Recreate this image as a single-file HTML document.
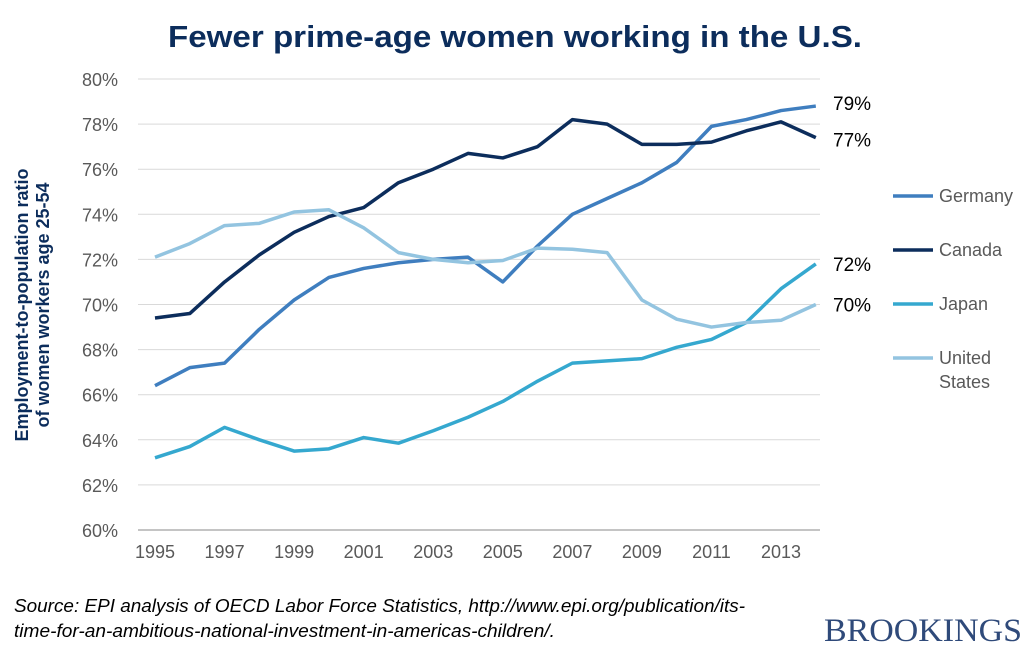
<!DOCTYPE html>
<html><head><meta charset="utf-8"><style>
body{margin:0;background:#fff;width:1031px;height:655px;overflow:hidden;font-family:"Liberation Sans",sans-serif}
</style></head><body>
<svg id="chart" width="1031" height="655" font-family="Liberation Sans, sans-serif">
<text x="515" y="47" text-anchor="middle" font-size="31" font-weight="bold" fill="#0c2d5c" textLength="694" lengthAdjust="spacingAndGlyphs">Fewer prime-age women working in the U.S.</text>
<g id="grid"></g><g id="yticks"></g><g id="xticks"></g><g id="lines"></g><g id="endlabels"></g><g id="legend"></g>
<text transform="translate(37,305) rotate(-90)" text-anchor="middle" font-size="18" font-weight="bold" fill="#0c2d5c"><tspan x="0" dy="-9">Employment-to-population ratio</tspan><tspan x="0" dy="21">of women workers age 25-54</tspan></text>
<text x="14" y="612" font-size="18" font-style="italic" fill="#000"><tspan x="14" textLength="731" lengthAdjust="spacingAndGlyphs">Source: EPI analysis of OECD Labor Force Statistics, http://www.epi.org/publication/its-</tspan><tspan x="14" dy="25" textLength="541" lengthAdjust="spacingAndGlyphs">time-for-an-ambitious-national-investment-in-americas-children/.</tspan></text>
<text x="1022" y="641" text-anchor="end" font-size="33" font-family="Liberation Serif, serif" fill="#2f4a7a" textLength="198" lengthAdjust="spacingAndGlyphs">BROOKINGS</text>
</svg>
<script>
const years=[1995,1996,1997,1998,1999,2000,2001,2002,2003,2004,2005,2006,2007,2008,2009,2010,2011,2012,2013,2014];
const germany=[66.4,67.2,67.4,68.9,70.2,71.2,71.6,71.85,72.0,72.1,71.0,72.6,74.0,74.7,75.4,76.3,77.9,78.2,78.6,78.8];
const canada=[69.4,69.6,71.0,72.2,73.2,73.9,74.3,75.4,76.0,76.7,76.5,77.0,78.2,78.0,77.1,77.1,77.2,77.7,78.1,77.4];
const japan=[63.2,63.7,64.55,64.0,63.5,63.6,64.1,63.85,64.4,65.0,65.7,66.6,67.4,67.5,67.6,68.1,68.45,69.2,70.7,71.8];
const us=[72.1,72.7,73.5,73.6,74.1,74.2,73.4,72.3,72.0,71.85,71.95,72.5,72.45,72.3,70.2,69.35,69.0,69.2,69.3,70.0];
const yTicks=[60,62,64,66,68,70,72,74,76,78,80];
const xTickLabels=[1995,1997,1999,2001,2003,2005,2007,2009,2011,2013];
const endLabels=["79%","77%","72%","70%"];
const NS="http://www.w3.org/2000/svg";
const X=y=>155+(y-1995)*34.78;
const Y=v=>530-(v-60)*22.55;
function mk(t,a,p){const e=document.createElementNS(NS,t);for(const k in a)e.setAttribute(k,a[k]);p.appendChild(e);return e;}
const grid=document.getElementById('grid'),yt=document.getElementById('yticks'),xt=document.getElementById('xticks');
yTicks.forEach(v=>{
 const l=mk('line',{x1:138,x2:820,y1:Y(v),y2:Y(v),stroke:v===60?'#888':'#d9d9d9','stroke-width':1},grid);
 
 
 const t=mk('text',{x:118,y:Y(v)+7,'text-anchor':'end','font-size':18,fill:'#595959'},yt);t.textContent=v+'%';
 
 
});
xTickLabels.forEach(y=>{
 const t=mk('text',{x:X(y),y:558,'text-anchor':'middle','font-size':18,fill:'#595959'},xt);t.textContent=y;
 
 
});
const series=[["germany","Germany",germany,"#3f7ebf"],["canada","Canada",canada,"#0c2d5c"],["japan","Japan",japan,"#35a8cf"],["united-states","United States",us,"#93c4e0"]];
const lg=document.getElementById('lines'),el=document.getElementById('endlabels'),leg=document.getElementById('legend');
series.forEach((s,i)=>{
 const p=mk('polyline',{points:s[2].map((v,j)=>X(years[j])+','+Y(v)).join(' '),fill:'none',stroke:s[3],'stroke-width':3.5,'stroke-linejoin':'round'},lg);
 
 
 const last=s[2][s[2].length-1];
 const t=mk('text',{x:833,y:Y(last)+7+(i===0?-3:i===1?2:0),'font-size':19,fill:'#000'},el);t.textContent=endLabels[i];
 
 
 const ly=[196,250,304,358][i];
 const ll=mk('line',{x1:893,x2:933,y1:ly,y2:ly,stroke:s[3],'stroke-width':3.5},leg);
 
 
 const lt=mk('text',{x:939,y:ly+6,'font-size':18,fill:'#595959'},leg);
 
 
 if(i===3){lt.innerHTML='<tspan x="939">United</tspan><tspan x="939" dy="24">States</tspan>';}else lt.textContent=s[1];
});
</script>
</body></html>
